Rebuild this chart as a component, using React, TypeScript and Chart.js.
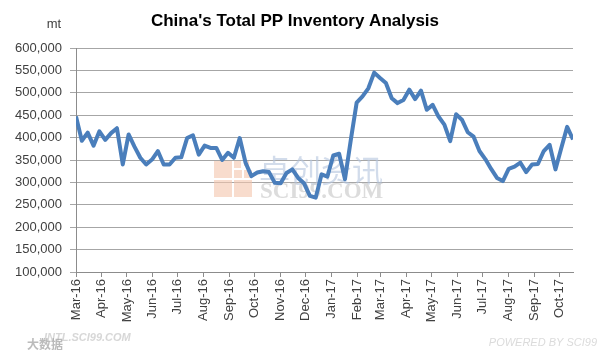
import React, { useEffect, useRef } from 'react';
import { Chart, registerables } from 'chart.js';

Chart.register(...registerables);

// ---- data ----
const startDate = '2016-03-04';
const weekStepDays = 7;
const inventory = [
  447000, 393000, 411000, 382000, 414000, 395000, 410000, 421000, 340000, 407000,
  380000, 355000, 340000, 351000, 370000, 340000, 340000, 355000, 356000, 399000,
  405000, 362000, 382000, 377000, 377000, 350000, 366000, 355000, 399000, 344000,
  314000, 322000, 325000, 323000, 299000, 298000, 321000, 329000, 310000, 298000,
  270000, 266000, 318000, 313000, 360000, 364000, 307000, 395000, 478000, 492000,
  510000, 545000, 533000, 522000, 488000, 477000, 484000, 507000, 486000, 505000,
  462000, 473000, 447000, 429000, 392000, 452000, 440000, 412000, 402000, 370000,
  352000, 330000, 310000, 303000, 330000, 335000, 344000, 323000, 340000, 341000,
  370000, 384000, 329000, 377000, 424000, 396000,
];
const monthLabels = [
  'Mar-16', 'Apr-16', 'May-16', 'Jun-16', 'Jul-16', 'Aug-16', 'Sep-16', 'Oct-16',
  'Nov-16', 'Dec-16', 'Jan-17', 'Feb-17', 'Mar-17', 'Apr-17', 'May-17', 'Jun-17',
  'Jul-17', 'Aug-17', 'Sep-17', 'Oct-17',
];
const yMin = 100000;
const yMax = 600000;
const yStep = 50000;
const titleText = "China's Total PP Inventory Analysis";
const unitText = 'mt';

const DAY = 86400000;
const MONTHS = ['Jan', 'Feb', 'Mar', 'Apr', 'May', 'Jun', 'Jul', 'Aug', 'Sep', 'Oct', 'Nov', 'Dec'];
const startMs = Date.parse(startDate + 'T00:00:00Z');
const startDay = new Date(startMs).getUTCDate();

function labelToDays(lbl: string): number {
  const [m, y] = lbl.split('-');
  const t = Date.UTC(2000 + Number(y), MONTHS.indexOf(m), startDay);
  return Math.round((t - startMs) / DAY);
}

const FONT = "'Liberation Sans', Arial, sans-serif";

const decorPlugin = {
  id: 'decor',
  beforeDatasetsDraw(chart: any) {
    const ctx = chart.ctx;
    ctx.save();
    // logo squares
    ctx.fillStyle = 'rgba(244, 196, 172, 0.6)';
    const sq = (x: number, y: number, w: number, h: number) => ctx.fillRect(x, y, w, h);
    sq(214, 161, 18, 17);
    sq(214, 180, 18, 17);
    sq(234, 180, 18, 17);
    sq(234, 170, 8, 8);
    sq(244, 170, 8, 8);
    sq(234, 161, 7, 7);
    sq(244, 161, 5, 5);
    // chinese watermark
    ctx.fillStyle = 'rgba(180, 196, 222, 0.6)';
    ctx.font = "31px 'Noto Sans CJK SC', sans-serif";
    ctx.textAlign = 'left';
    ctx.textBaseline = 'middle';
    ctx.fillText('卓创资讯', 259, 170);
    ctx.fillStyle = 'rgba(205, 205, 205, 0.7)';
    ctx.font = "bold 23px 'Liberation Serif', serif";
    ctx.fillText('SCI99.COM', 260, 192);
    ctx.restore();
  },
  afterDraw(chart: any) {
    const ctx = chart.ctx;
    ctx.save();
    ctx.fillStyle = '#000';
    ctx.font = `bold 17px ${FONT}`;
    ctx.textAlign = 'center';
    ctx.textBaseline = 'middle';
    ctx.fillText(titleText, 295, 21);
    ctx.font = `13px ${FONT}`;
    ctx.fillStyle = '#404040';
    ctx.fillText(unitText, 54, 24);
    // footer watermarks
    ctx.font = `italic bold 11px ${FONT}`;
    ctx.fillStyle = 'rgba(205, 205, 205, 0.8)';
    ctx.textAlign = 'left';
    ctx.fillText('INTL.SCI99.COM', 44, 338);
    ctx.font = "bold 12px 'Noto Sans CJK SC', sans-serif";
    ctx.fillStyle = 'rgba(170, 170, 170, 0.8)';
    ctx.fillText('大数据', 27, 344);
    ctx.font = `italic 11px ${FONT}`;
    ctx.fillStyle = 'rgba(215, 215, 215, 0.9)';
    ctx.textAlign = 'right';
    ctx.fillText('POWERED BY SCI99', 597, 343);
    ctx.restore();
  },
};

export default function App() {
  const ref = useRef<HTMLCanvasElement | null>(null);

  useEffect(() => {
    if (!ref.current) return;
    const monthDays = monthLabels.map(labelToDays);
    const points = inventory.map((v, i) => ({ x: i * weekStepDays, y: v }));
    const chart = new Chart(ref.current, {
      type: 'line',
      data: {
        datasets: [
          {
            data: points,
            borderColor: '#4A7EBB',
            borderWidth: 4,
            pointRadius: 0,
            tension: 0,
            fill: false,
            borderJoinStyle: 'round',
          },
        ],
      },
      options: {
        animation: false,
        responsive: false,
        devicePixelRatio: 1,
        layout: { padding: { top: 48, right: 36, left: 0, bottom: 0 } },
        plugins: {
          legend: { display: false },
          tooltip: { enabled: false },
          title: { display: false },
        },
        scales: {
          x: {
            type: 'linear',
            min: 0,
            max: (inventory.length - 1) * weekStepDays,
            afterBuildTicks: (scale: any) => {
              scale.ticks = monthDays.map((v) => ({ value: v }));
            },
            afterFit: (scale: any) => {
              scale.height = 78;
            },
            ticks: {
              autoSkip: false,
              minRotation: 90,
              maxRotation: 90,
              padding: 2,
              color: '#404040',
              font: { family: FONT, size: 13 },
              callback: (_v: any, i: number) => monthLabels[i],
            },
            grid: {
              drawOnChartArea: false,
              drawTicks: true,
              tickLength: 5,
              color: '#8c8c8c',
            },
            border: { color: '#8c8c8c', width: 1 },
          },
          y: {
            min: yMin,
            max: yMax,
            afterFit: (scale: any) => {
              scale.width = 76;
            },
            ticks: {
              stepSize: yStep,
              padding: 8,
              color: '#404040',
              font: { family: FONT, size: 13 },
              callback: (v: any) => Number(v).toLocaleString('en-US'),
            },
            grid: {
              color: '#a6a6a6',
              tickLength: 6,
              lineWidth: 1,
            },
            border: { color: '#8c8c8c', width: 1 },
          },
        },
      },
      plugins: [decorPlugin],
    } as any);
    return () => chart.destroy();
  }, []);

  return (
    <div style={{ position: 'absolute', left: 0, top: 0, width: 609, height: 350, background: '#fff' }}>
      <canvas ref={ref} width={609} height={350} style={{ width: 609, height: 350 }} />
    </div>
  );
}
